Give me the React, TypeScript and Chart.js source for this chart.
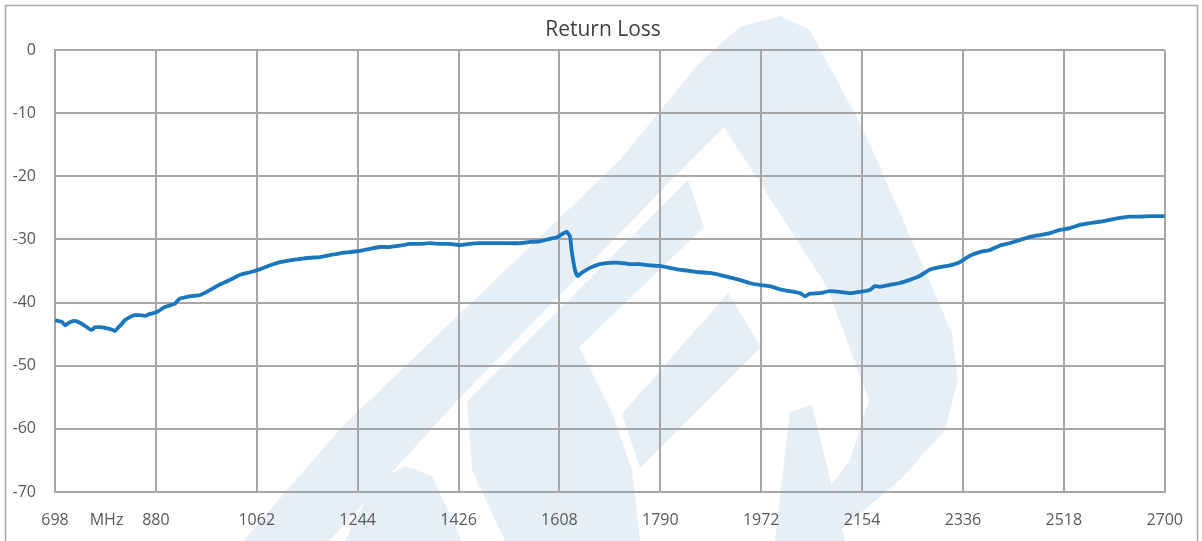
import React, { useEffect, useRef } from "react";
import { Chart, registerables } from "chart.js";

Chart.register(...registerables);

const TITLE = "Return Loss";

const FREQ_MHZ = [
  698, 711, 716, 725, 734, 743, 752, 761, 765, 770, 779, 788, 801, 806, 815, 824, 833, 842, 851, 860,
  869, 882, 896, 914, 923, 941, 960, 978, 996, 1014, 1032, 1050, 1068, 1086, 1104, 1122, 1140, 1158,
  1176, 1194, 1212, 1230, 1248, 1266, 1284, 1302, 1320, 1338, 1356, 1374, 1392, 1410, 1428, 1446,
  1465, 1483, 1501, 1519, 1537, 1555, 1573, 1591, 1605, 1614, 1621, 1627, 1630, 1636, 1641, 1648,
  1663, 1681, 1699, 1717, 1735, 1753, 1771, 1789, 1807, 1825, 1843, 1861, 1879, 1897, 1915, 1933,
  1951, 1969, 1987, 2006, 2024, 2042, 2051, 2060, 2078, 2096, 2114, 2132, 2150, 2168, 2177, 2186,
  2204, 2222, 2240, 2258, 2276, 2294, 2312, 2330, 2348, 2366, 2384, 2402, 2420, 2438, 2457, 2475,
  2493, 2511, 2529, 2547, 2565, 2583, 2601, 2619, 2637, 2655, 2673, 2700,
];

const RETURN_LOSS_DB = [
  -42.8, -43.1, -43.6, -43.1, -42.9, -43.2, -43.7, -44.2, -44.3, -43.9, -43.9, -44.0, -44.3, -44.5, -43.7, -42.8, -42.3, -42.0, -42.0, -42.1,
  -41.8, -41.5, -40.7, -40.2, -39.4, -39.0, -38.8, -38.0, -37.1, -36.4, -35.6, -35.2, -34.7, -34.1, -33.6, -33.3, -33.1, -32.9,
  -32.8, -32.5, -32.2, -32.0, -31.8, -31.5, -31.2, -31.2, -31.0, -30.7, -30.7, -30.6, -30.7, -30.7, -30.9, -30.7,
  -30.6, -30.6, -30.6, -30.6, -30.6, -30.4, -30.3, -29.9, -29.6, -29.1, -28.8, -29.5, -31.7, -34.8, -35.8, -35.3,
  -34.5, -33.9, -33.7, -33.7, -33.9, -33.9, -34.1, -34.2, -34.5, -34.8, -35.0, -35.2, -35.3, -35.6, -36.0, -36.4,
  -36.9, -37.2, -37.4, -37.9, -38.2, -38.5, -39.0, -38.6, -38.5, -38.2, -38.3, -38.5, -38.3, -38.0, -37.4, -37.5,
  -37.2, -36.9, -36.4, -35.8, -34.8, -34.4, -34.1, -33.6, -32.6, -32.0, -31.7, -31.0, -30.6, -30.1, -29.6, -29.3,
  -29.0, -28.5, -28.2, -27.7, -27.4, -27.2, -26.9, -26.6, -26.4, -26.4, -26.3, -26.3,
];

const X_TICK_VALUES = [698, 791, 880, 1062, 1244, 1426, 1608, 1790, 1972, 2154, 2336, 2518, 2700];
const X_TICK_LABELS = ["698", "MHz", "880", "1062", "1244", "1426", "1608", "1790", "1972", "2154", "2336", "2518", "2700"];
const UNIT_TICK = 791;

const Y_MIN = -70;
const Y_MAX = 0;
const Y_STEP = 10;

// Decorative background watermark (light logo), in canvas pixels
const WATERMARK_LIGHT: number[][][] = [
  [[243, 541], [342, 427], [620, 160], [700, 62], [740, 27], [780, 16], [810, 30], [865, 133], [952, 333], [958, 380], [945, 430], [900, 480], [827, 541]],
];
const WATERMARK_WHITE: number[][][] = [
  [[329, 541], [458, 400], [683, 168], [724, 127], [827, 287], [869, 400], [850, 460], [790, 541]],
];
const WATERMARK_INNER: number[][][] = [
  [[467, 402], [688, 180], [704, 227], [579, 347], [612, 413], [632, 470], [640, 541], [505, 541], [472, 470]],
  [[345, 541], [375, 482], [405, 466], [432, 476], [462, 541]],
  [[622, 414], [728, 293], [761, 347], [640, 468]],
  [[790, 412], [812, 405], [845, 541], [775, 541]],
];

const GRID = "#a6a6a6";
const TEXT = "#595959";
const LINE = "#1a76bd";
const WM = "#e6eef6";

const App: React.FC = () => {
  const ref = useRef<HTMLCanvasElement | null>(null);

  useEffect(() => {
    if (!ref.current) return;

    const decor = {
      id: "decor",
      beforeDraw(chart: any) {
        const ctx = chart.ctx as CanvasRenderingContext2D;
        ctx.save();
        ctx.fillStyle = "#ffffff";
        ctx.fillRect(0, 0, chart.width, chart.height);
        const fillPolys = (polys: number[][][], color: string) => {
          ctx.fillStyle = color;
          polys.forEach((p) => {
            ctx.beginPath();
            p.forEach(([x, y], i) => (i === 0 ? ctx.moveTo(x, y) : ctx.lineTo(x, y)));
            ctx.closePath();
            ctx.fill();
          });
        };
        fillPolys(WATERMARK_LIGHT, WM);
        fillPolys(WATERMARK_WHITE, "#ffffff");
        fillPolys(WATERMARK_INNER, WM);
        ctx.strokeStyle = GRID;
        ctx.lineWidth = 1.5;
        ctx.strokeRect(5.5, 5.5, chart.width - 10, chart.height + 20);
        ctx.fillStyle = "#404040";
        ctx.font = "21px 'Open Sans'";
        ctx.textAlign = "center";
        ctx.textBaseline = "middle";
        ctx.fillText(TITLE, 603, 30);
        ctx.restore();
      },
    };

    const chart = new Chart(ref.current, {
      type: "line",
      data: {
        datasets: [
          {
            label: TITLE,
            data: FREQ_MHZ.map((f, i) => ({ x: f, y: RETURN_LOSS_DB[i] })),
            borderColor: LINE,
            borderWidth: 3.8,
            pointRadius: 0,
            tension: 0.2,
            fill: false,
          },
        ],
      },
      options: {
        animation: false,
        responsive: false,
        devicePixelRatio: 1,
        layout: { padding: { top: 50, right: 37, left: 0, bottom: 0 } },
        plugins: { legend: { display: false }, title: { display: false }, tooltip: { enabled: false } },
        scales: {
          x: {
            type: "linear",
            min: 698,
            max: 2700,
            afterBuildTicks: (scale: any) => {
              scale.ticks = X_TICK_VALUES.map((v) => ({ value: v }));
            },
            afterFit: (scale: any) => {
              scale.height = 49;
            },
            ticks: {
              autoSkip: false,
              maxRotation: 0,
              padding: 19,
              color: TEXT,
              font: { family: "'Open Sans'", size: 16 },
              callback: (v: any) => {
                const i = X_TICK_VALUES.indexOf(Number(v));
                return i >= 0 ? X_TICK_LABELS[i] : "";
              },
            },
            grid: {
              drawTicks: false,
              lineWidth: 2,
              color: (c: any) => (c.tick && c.tick.value === UNIT_TICK ? "rgba(0,0,0,0)" : GRID),
            },
            border: { color: GRID, width: 2 },
          },
          y: {
            min: Y_MIN,
            max: Y_MAX,
            afterFit: (scale: any) => {
              scale.width = 55;
            },
            ticks: {
              stepSize: Y_STEP,
              padding: 19,
              color: TEXT,
              font: { family: "'Open Sans'", size: 16 },
            },
            grid: { drawTicks: false, lineWidth: 2, color: GRID },
            border: { color: GRID, width: 2 },
          },
        },
      },
      plugins: [decor],
    });

    return () => chart.destroy();
  }, []);

  return (
    <div style={{ position: "absolute", left: 0, top: 0, width: 1202, height: 541 }}>
      <canvas ref={ref} width={1202} height={541} style={{ width: 1202, height: 541 }} />
    </div>
  );
};

export default App;
